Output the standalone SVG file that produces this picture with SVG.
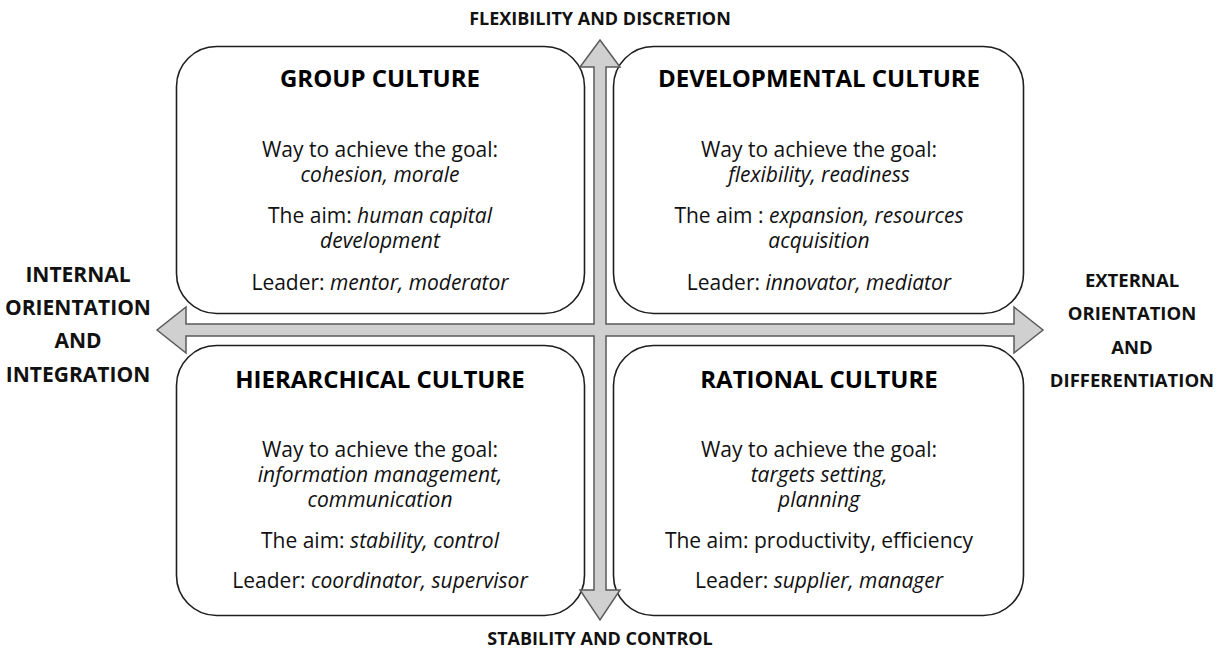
<svg xmlns="http://www.w3.org/2000/svg" width="1222" height="657" viewBox="0 0 1222 657">
  <style>
    .box { fill: #ffffff; stroke: #1e1e1e; stroke-width: 1.6; }
    .title { font-family: "Open Sans", "Liberation Sans", sans-serif; font-weight: bold; font-size: 24px; fill: #000; text-anchor: middle; }
    .body { font-family: "Open Sans", "Liberation Sans", sans-serif; font-size: 21px; fill: #111; text-anchor: middle; }
    .it { font-style: italic; }
    .axis { font-family: "Open Sans", "Liberation Sans", sans-serif; font-weight: bold; font-size: 18px; fill: #111; text-anchor: middle; }
    .axis-left { font-size: 21px; }
    .axis-right { font-size: 18.5px; }
    .cross { fill: #d0d0d0; stroke: #5a5a5a; stroke-width: 1.5; stroke-linejoin: miter; }
  </style>
  <rect width="1222" height="657" fill="#ffffff"/>

  <!-- quadrant boxes -->
  <g id="group-culture">
    <rect class="box" x="176.5" y="46.5" width="408" height="267" rx="40" ry="40"/>
    <text class="title" x="380" y="87">GROUP CULTURE</text>
    <text class="body" x="380" y="157">Way to achieve the goal:</text>
    <text class="body it" x="380" y="182">cohesion, morale</text>
    <text class="body" x="380" y="223">The aim: <tspan class="it">human capital</tspan></text>
    <text class="body it" x="380" y="248">development</text>
    <text class="body" x="380" y="290">Leader: <tspan class="it">mentor, moderator</tspan></text>
  </g>

  <g id="developmental-culture">
    <rect class="box" x="613.5" y="46.5" width="410" height="267" rx="40" ry="40"/>
    <text class="title" x="819" y="87">DEVELOPMENTAL CULTURE</text>
    <text class="body" x="819" y="157">Way to achieve the goal:</text>
    <text class="body it" x="819" y="182">flexibility, readiness</text>
    <text class="body" x="819" y="223">The aim : <tspan class="it">expansion, resources</tspan></text>
    <text class="body it" x="819" y="248">acquisition</text>
    <text class="body" x="819" y="290">Leader: <tspan class="it">innovator, mediator</tspan></text>
  </g>

  <g id="hierarchical-culture">
    <rect class="box" x="176.5" y="345.5" width="408" height="270" rx="40" ry="40"/>
    <text class="title" x="380" y="388">HIERARCHICAL CULTURE</text>
    <text class="body" x="380" y="457">Way to achieve the goal:</text>
    <text class="body it" x="380" y="482">information management,</text>
    <text class="body it" x="380" y="507">communication</text>
    <text class="body" x="380" y="548">The aim: <tspan class="it">stability, control</tspan></text>
    <text class="body" x="380" y="588">Leader: <tspan class="it">coordinator, supervisor</tspan></text>
  </g>

  <g id="rational-culture">
    <rect class="box" x="613.5" y="345.5" width="410" height="270" rx="40" ry="40"/>
    <text class="title" x="819" y="388">RATIONAL CULTURE</text>
    <text class="body" x="819" y="457">Way to achieve the goal:</text>
    <text class="body it" x="819" y="482">targets setting,</text>
    <text class="body it" x="819" y="507">planning</text>
    <text class="body" x="819" y="548">The aim: productivity, efficiency</text>
    <text class="body" x="819" y="588">Leader: <tspan class="it">supplier, manager</tspan></text>
  </g>

  <!-- axes: one double-headed cross drawn over the boxes -->
  <g id="connectors">
    <path class="cross" d="M600,40 L620,67 L606,67 L606,324 L1014,324 L1014,307 L1043,330 L1014,353 L1014,336 L606,336 L606,590 L620,590 L600,620 L580,590 L594,590 L594,336 L186,336 L186,353 L157,330 L186,307 L186,324 L594,324 L594,67 L580,67 Z"/>
  </g>

  <!-- axis labels -->
  <g id="axis-labels">
    <text class="axis" x="600" y="25">FLEXIBILITY AND DISCRETION</text>
    <text class="axis" x="600" y="645">STABILITY AND CONTROL</text>
    <text class="axis axis-left" x="78" y="282">INTERNAL</text>
    <text class="axis axis-left" x="78" y="315">ORIENTATION</text>
    <text class="axis axis-left" x="78" y="348">AND</text>
    <text class="axis axis-left" x="78" y="382">INTEGRATION</text>
    <text class="axis axis-right" x="1132" y="287">EXTERNAL</text>
    <text class="axis axis-right" x="1132" y="320">ORIENTATION</text>
    <text class="axis axis-right" x="1132" y="354">AND</text>
    <text class="axis axis-right" x="1132" y="387">DIFFERENTIATION</text>
  </g>
</svg>
